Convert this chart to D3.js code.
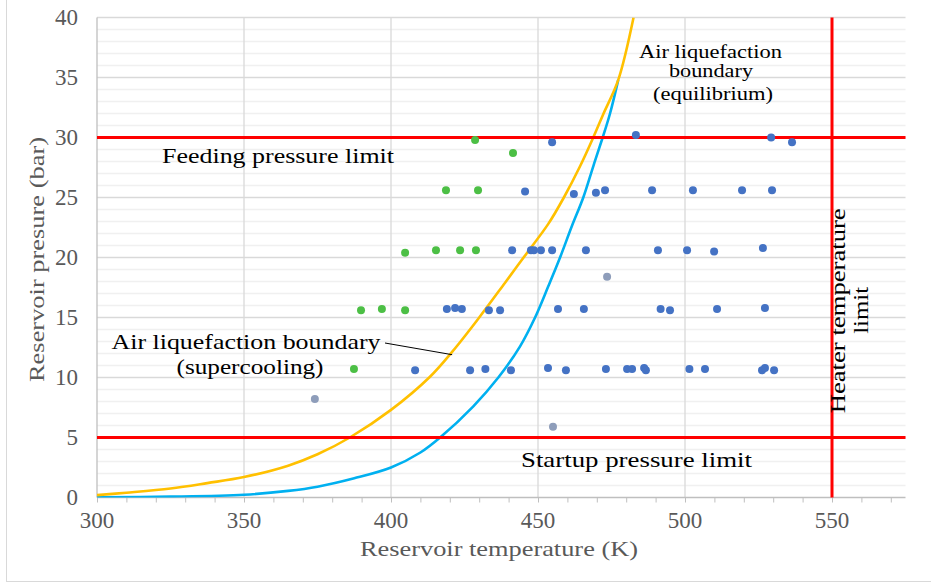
<!DOCTYPE html>
<html>
<head>
<meta charset="utf-8">
<script src="https://cdn.jsdelivr.net/npm/d3@7"></script>
<style>
body { margin: 0; background: #fff; }
text { font-family: "Liberation Serif", "DejaVu Serif", serif; }
</style>
</head>
<body>
<svg id="chart" width="931" height="583"></svg>
<script>
// axis ticks
const xTicks = [300, 350, 400, 450, 500, 550];
const yTicks = [0, 5, 10, 15, 20, 25, 30, 35, 40];

// operating limits
const feedPressure = 30;
const startupPressure = 5;
const heaterTemperature = 550;

// air liquefaction boundary, supercooling (yellow)
const superT = [300, 310, 325, 337.5, 350, 365, 375, 386, 400, 413, 421, 430, 438.8, 446, 453.5, 458.8, 464.3, 468.8, 472.3, 477.3, 482.5];
const superP = [0.2, 0.4, 0.75, 1.2, 1.7, 2.65, 3.6, 5.0, 7.3, 10.0, 12.2, 15.0, 17.9, 20.3, 22.8, 25.0, 27.6, 30.0, 32.0, 34.8, 40.0];

// air liquefaction boundary, equilibrium (light blue)
const equilT = [300, 325, 350, 365, 375, 387.5, 400, 410, 416.7, 428, 436.5, 443.9, 449, 453.5, 457.5, 461.5, 465.4, 468.8, 472, 474.5, 477.3];
const equilP = [0.02, 0.07, 0.23, 0.55, 0.9, 1.6, 2.5, 3.75, 5.0, 7.6, 10.0, 12.6, 15.0, 17.6, 20.0, 22.6, 25.0, 27.6, 30.0, 32.0, 34.8];

// test points
const blueT = [454.8, 483.3, 529.3, 536.4,
  445.6, 462.2, 469.7, 472.8, 488.8, 502.7, 519.4, 529.6,
  441.2, 447.6, 448.6, 451.0, 454.8, 466.3, 490.8, 500.7, 509.9, 526.5,
  419.0, 421.8, 424.1, 433.3, 437.1, 456.8, 465.6, 491.7, 494.9, 510.9, 527.2,
  408.2, 426.9, 432.1, 440.8, 453.4, 459.5, 473.1, 480.3, 482.0, 486.1, 486.7, 501.5, 506.8, 526.2, 527.2, 530.3];
const blueP = [29.6, 30.2, 30.0, 29.6,
  25.5, 25.3, 25.4, 25.6, 25.6, 25.6, 25.6, 25.6,
  20.6, 20.6, 20.6, 20.6, 20.6, 20.6, 20.6, 20.6, 20.5, 20.8,
  15.7, 15.8, 15.7, 15.6, 15.6, 15.7, 15.7, 15.7, 15.6, 15.7, 15.8,
  10.6, 10.6, 10.7, 10.6, 10.8, 10.6, 10.7, 10.7, 10.7, 10.8, 10.6, 10.7, 10.7, 10.6, 10.8, 10.6];
const greenT = [428.6, 441.5, 418.7, 429.6, 404.8, 415.3, 423.5, 428.9, 389.8, 396.9, 404.8, 387.4];
const greenP = [29.8, 28.7, 25.6, 25.6, 20.4, 20.6, 20.6, 20.6, 15.6, 15.7, 15.6, 10.7];
const greyT = [374.1, 455.1, 473.5];
const greyP = [8.2, 5.9, 18.4];

var svg = d3.select('#chart');
var x = d3.scaleLinear().domain([300, 575]).range([97, 905.5]);
var y = d3.scaleLinear().domain([0, 40]).range([497.5, 17.5]);

// chart area border (left and bottom visible)
svg.append('rect')
    .attr('x', 6.5).attr('y', -5).attr('width', 1000).attr('height', 586.5)
    .attr('fill', 'none').attr('stroke', '#d9d9d9');

// gridlines
var grid = svg.append('g');
grid.selectAll('.minor').data(d3.range(1, 40).filter(function(d) {return d % 5;}))
    .enter().append('line')
    .attr('x1', x(300)).attr('x2', x(575))
    .attr('y1', function(d) {return y(d);}).attr('y2', function(d) {return y(d);})
    .attr('stroke', '#f0f0f0').attr('stroke-width', 1.3);
grid.selectAll('.major').data(yTicks.slice(1))
    .enter().append('line')
    .attr('x1', x(300)).attr('x2', x(575))
    .attr('y1', function(d) {return y(d);}).attr('y2', function(d) {return y(d);})
    .attr('stroke', '#d9d9d9').attr('stroke-width', 1.3);
grid.selectAll('.vmajor').data(xTicks.slice(1))
    .enter().append('line')
    .attr('x1', function(d) {return x(d);}).attr('x2', function(d) {return x(d);})
    .attr('y1', y(0)).attr('y2', y(40))
    .attr('stroke', '#d9d9d9').attr('stroke-width', 1.3);

// axes
var xAxis = svg.append('g').attr('transform', 'translate(0,' + y(0) + ')')
    .call(d3.axisBottom(x).tickValues(d3.range(300, 580, 10)).tickSize(5).tickFormat(''));
xAxis.select('.domain').attr('stroke', '#bfbfbf').attr('stroke-width', 1.3).attr('d', 'M' + x(300) + ',0H' + x(575));
xAxis.selectAll('.tick line').attr('stroke', '#bfbfbf');
svg.append('line')
    .attr('x1', x(300)).attr('x2', x(300)).attr('y1', y(0)).attr('y2', y(40))
    .attr('stroke', '#bfbfbf').attr('stroke-width', 1.3);

svg.append('g').selectAll('text').data(xTicks).enter().append('text')
    .attr('x', function(d) {return x(d);}).attr('y', 528)
    .attr('text-anchor', 'middle').attr('font-size', 23).attr('fill', '#595959')
    .text(function(d) {return d;});
svg.append('g').selectAll('text').data(yTicks).enter().append('text')
    .attr('x', 78).attr('y', function(d) {return y(d) + 7.5;})
    .attr('text-anchor', 'end').attr('font-size', 23).attr('fill', '#595959')
    .text(function(d) {return d;});

svg.append('text')
    .attr('x', 499).attr('y', 556).attr('text-anchor', 'middle')
    .attr('font-size', 21).attr('fill', '#595959')
    .attr('textLength', 278).attr('lengthAdjust', 'spacingAndGlyphs')
    .text('Reservoir temperature (K)');
svg.append('text')
    .attr('transform', 'translate(44,259.5) rotate(-90)').attr('text-anchor', 'middle')
    .attr('font-size', 21).attr('fill', '#595959')
    .attr('textLength', 245).attr('lengthAdjust', 'spacingAndGlyphs')
    .text('Reservoir presure (bar)');

// boundary curves
svg.append('clipPath').attr('id', 'plotclip')
    .append('rect').attr('x', x(300)).attr('y', y(40)).attr('width', x(575) - x(300)).attr('height', y(0) - y(40));
var line = d3.line()
    .curve(d3.curveCatmullRom.alpha(0.5))
    .x(function(d) {return x(d[0]);})
    .y(function(d) {return y(d[1]);});
var curves = svg.append('g').attr('clip-path', 'url(#plotclip)');
curves.append('path')
    .attr('d', line(d3.zip(equilT, equilP)))
    .attr('fill', 'none').attr('stroke', '#00b0f0').attr('stroke-width', 2.6);
curves.append('path')
    .attr('d', line(d3.zip(superT, superP)))
    .attr('fill', 'none').attr('stroke', '#ffc000').attr('stroke-width', 2.6);

// limit lines
var limits = svg.append('g').attr('stroke', '#ff0000').attr('stroke-width', 3);
[feedPressure, startupPressure].forEach(function(p) {
    limits.append('line').attr('x1', x(300)).attr('x2', x(575)).attr('y1', y(p)).attr('y2', y(p));
});
limits.append('line')
    .attr('x1', x(heaterTemperature)).attr('x2', x(heaterTemperature))
    .attr('y1', y(0)).attr('y2', y(40));

// scatter points
function dots(ts, ps, color) {
    svg.append('g').selectAll('circle').data(d3.zip(ts, ps)).enter().append('circle')
        .attr('cx', function(d) {return x(d[0]);})
        .attr('cy', function(d) {return y(d[1]);})
        .attr('r', 4)
        .attr('fill', color);
}
dots(greyT, greyP, '#8e9dba');
dots(greenT, greenP, '#4cbf45');
dots(blueT, blueP, '#4472c4');

// annotations
function label(text, px, py, size, len, anchor) {
    return svg.append('text')
        .attr('x', px).attr('y', py).attr('text-anchor', anchor || 'start')
        .attr('font-size', size).attr('fill', '#000')
        .attr('textLength', len).attr('lengthAdjust', 'spacingAndGlyphs')
        .text(text);
}
label('Feeding pressure limit', 162, 163, 21, 232);
label('Startup pressure limit', 521, 467, 21, 231);
label('Air liquefaction boundary', 246, 349, 21, 269, 'middle');
label('(supercooling)', 250, 374, 21, 147, 'middle');
label('Air liquefaction', 710.5, 58, 18.5, 143, 'middle');
label('boundary', 711, 77, 18.5, 84, 'middle');
label('(equilibrium)', 713, 100, 18.5, 120, 'middle');
svg.append('line')
    .attr('x1', 385).attr('y1', 343)
    .attr('x2', x(420.8)).attr('y2', y(11.9))
    .attr('stroke', '#000').attr('stroke-width', 1);

svg.append('text')
    .attr('transform', 'translate(845,310.8) rotate(-90)').attr('text-anchor', 'middle')
    .attr('font-size', 22).attr('textLength', 205).attr('lengthAdjust', 'spacingAndGlyphs')
    .text('Heater temperature');
svg.append('text')
    .attr('transform', 'translate(868,310.3) rotate(-90)').attr('text-anchor', 'middle')
    .attr('font-size', 22).attr('textLength', 47).attr('lengthAdjust', 'spacingAndGlyphs')
    .text('limit');
</script>
</body>
</html>
